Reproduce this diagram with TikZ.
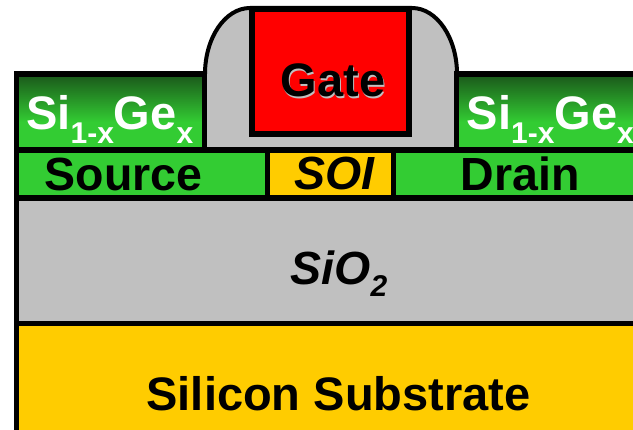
\documentclass[tikz,border=0pt]{standalone}
\usepackage{fontspec}
\setmainfont{Liberation Sans}
\definecolor{sigreen}{RGB}{51,204,51}
\definecolor{sidark}{RGB}{28,96,28}
\definecolor{goldy}{RGB}{255,204,0}
\definecolor{greyf}{RGB}{192,192,192}
\tikzset{
  layer/.style={draw=black,line width=5.5pt,line join=miter},
  bigtxt/.style={font=\fontsize{47}{47}\selectfont\bfseries,inner sep=0pt,anchor=base},
  midtxt/.style={font=\fontsize{46.5}{46.5}\selectfont\bfseries,inner sep=0pt,anchor=base},
  itatxt/.style={font=\fontsize{46.5}{46.5}\selectfont\bfseries\itshape,inner sep=0pt,anchor=base},
  sgtxt/.style={text=white,font=\fontsize{47}{47}\selectfont\bfseries,inner sep=0pt,anchor=base west},
  fadegreen/.style={top color=sidark,bottom color=sigreen}
}
\newcommand{\sigeText}{Si\raisebox{-14pt}{\fontsize{30}{30}\selectfont 1-x}Ge\raisebox{-14pt}{\fontsize{30}{30}\selectfont x}}
\begin{document}
\begin{tikzpicture}[x=1pt,y=-1pt]
\useasboundingbox (0,0) rectangle (633,430);
\begin{scope}
\clip (0,0) rectangle (633,430);
% substrate and oxide
\fill[goldy] (16.5,323.5) rectangle (640,440);
\fill[greyf] (16.5,198) rectangle (640,323.5);
% source, soi, drain
\fill[sigreen] (16.5,150) rectangle (267.5,198);
\fill[goldy] (267.5,150) rectangle (393.5,198);
\fill[sigreen] (393.5,150) rectangle (640,198);
% SiGe with gradient
\fill[sigreen] (16.5,74) rectangle (204.5,150);
\fill[sigreen] (456.5,74) rectangle (640,150);
\shade[fadegreen] (16.5,78) rectangle (204.5,122);
\shade[fadegreen] (456.5,78) rectangle (640,122);
% spacer
\fill[greyf,draw=black,line width=4pt] (205,74) .. controls (205,38) and (225,8) .. (250,8) -- (412,8) .. controls (437,8) and (457,38) .. (457,74);
\fill[greyf] (207,74) rectangle (454.5,147.5);
% lines
\draw[layer] (16.5,440) -- (16.5,74) -- (204.5,74) -- (204.5,150);
\draw[layer] (456.5,150) -- (456.5,74) -- (640,74);
\draw[layer] (16.5,150) -- (640,150);
\draw[layer] (16.5,198) -- (640,198);
\draw[layer] (16.5,323.5) -- (640,323.5);
\draw[layer] (267.5,150) -- (267.5,198);
\draw[layer] (393.5,150) -- (393.5,198);
\end{scope}
% gate
\node[layer,fill=red,minimum width=157pt,minimum height=125pt,inner sep=0pt,anchor=center] (gate) at (330.5,71.5) {};
\node[bigtxt,text=greyf] (gatesh) at (334.2,98.2) {Gate};
\node[bigtxt,text=black] (gatet) at (333,97) {Gate};
% labels
\node[sgtxt] (sg1) at (26,129.5) {\sigeText};
\node[sgtxt] (sg2) at (466.5,129.5) {\sigeText};
\node[midtxt] (src) at (123.5,191) {Source};
\node[itatxt] (soi) at (334.5,190) {SOI};
\node[midtxt] (drn) at (520,191) {Drain};
\node[itatxt] (sio) at (339,285) {SiO\raisebox{-12pt}{\fontsize{30}{30}\selectfont 2}};
\node[midtxt,font=\fontsize{47}{47}\selectfont\bfseries] (sub) at (338.5,411) {Silicon Substrate};
\end{tikzpicture}
\end{document}
